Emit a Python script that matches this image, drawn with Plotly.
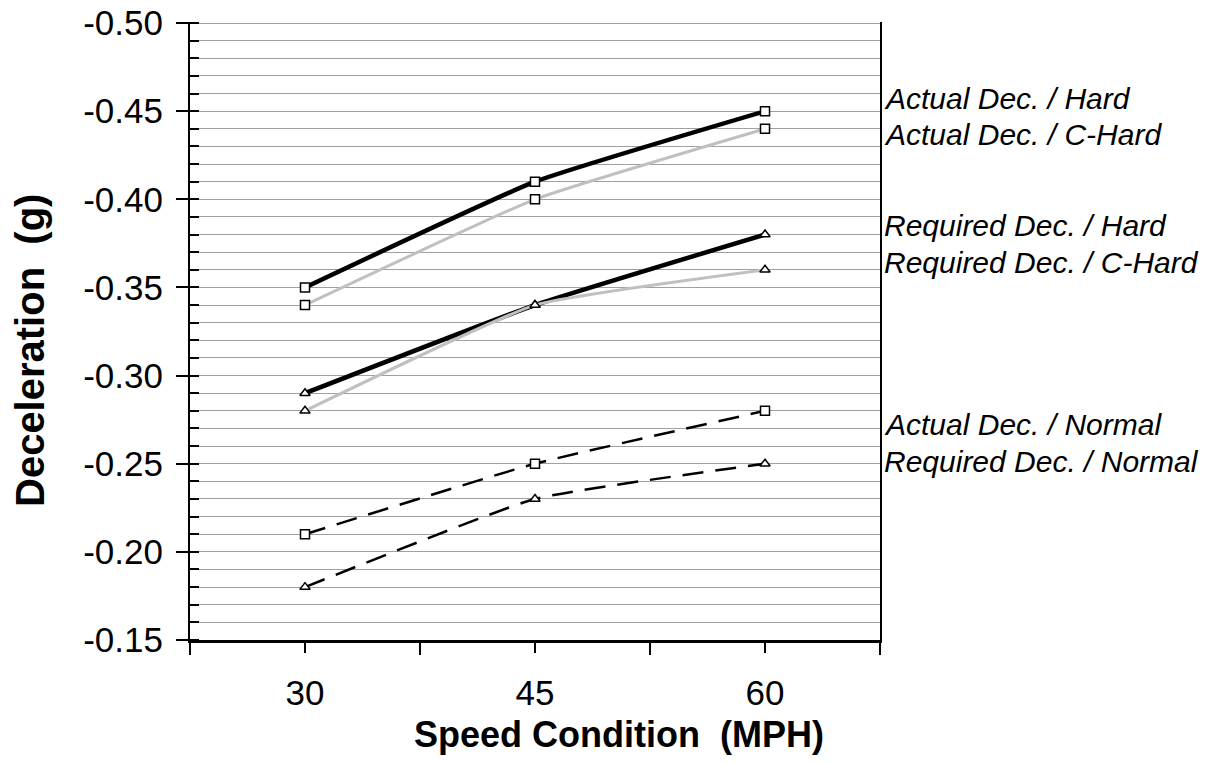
import plotly.graph_objects as go

speeds = [30, 45, 60]
speed_labels = ["30", "45", "60"]

actual_hard = [-0.35, -0.41, -0.45]
actual_chard = [-0.34, -0.40, -0.44]
required_hard = [-0.29, -0.34, -0.38]
required_chard = [-0.28, -0.34, -0.36]
actual_normal = [-0.21, -0.25, -0.28]
required_normal = [-0.18, -0.23, -0.25]

series_names = [
    "Actual Dec. / Hard",
    "Actual Dec. / C-Hard",
    "Required Dec. / Hard",
    "Required Dec. / C-Hard",
    "Actual Dec. / Normal",
    "Required Dec. / Normal",
]
label_y = [-0.457, -0.437, -0.385, -0.364, -0.272, -0.251]

y_ticks = [-0.50, -0.45, -0.40, -0.35, -0.30, -0.25, -0.20, -0.15]
y_tick_text = ["-0.50", "-0.45", "-0.40", "-0.35", "-0.30", "-0.25", "-0.20", "-0.15"]

FONT = "Liberation Sans, Arial, sans-serif"

styles = [
    (actual_hard, dict(color="black", width=4.5), "square"),
    (actual_chard, dict(color="#c0c0c0", width=3), "square"),
    (required_hard, dict(color="black", width=4.5), "triangle-up"),
    (required_chard, dict(color="#c0c0c0", width=3), "triangle-up"),
    (actual_normal, dict(color="black", width=2.5, dash="21px,12px"), "square"),
    (required_normal, dict(color="black", width=2.5, dash="21px,12px"), "triangle-up"),
]

fig = go.Figure()
for (vals, line, sym), name in zip(styles, series_names):
    fig.add_trace(go.Scatter(
        x=speeds, y=vals, name=name, mode="lines+markers",
        line=dict(shape="spline", smoothing=0.4, **line),
        marker=dict(symbol=sym, size=9, color="white",
                    line=dict(color="black", width=1.5)),
        showlegend=False,
    ))

for name, yv in zip(series_names, label_y):
    fig.add_annotation(
        x=1.0, xref="paper", y=yv, yref="y", xanchor="left", yanchor="middle",
        xshift=2, text=name, showarrow=False,
        font=dict(family=FONT, size=30, color="black", style="italic"),
    )

# page coordinates of the plot area (page body has an 8px margin)
OFF = 8
PLOT_L, PLOT_R, PLOT_T, PLOT_B = 190, 880, 22, 640
PW, PH = PLOT_R - PLOT_L, PLOT_B - PLOT_T
FIG_W, FIG_H = 1214 - 2 * OFF, 765 - 2 * OFF

fig.add_annotation(
    x=(30 - PLOT_L) / PW, xref="paper", y=(PLOT_B - 351) / PH, yref="paper",
    text="<b>Deceleration&nbsp;&nbsp;(g)</b>",
    textangle=-90, showarrow=False, xanchor="center", yanchor="middle",
    font=dict(family=FONT, size=40, color="black"),
)
fig.add_annotation(
    x=(619 - PLOT_L) / PW, xref="paper", y=-(734 - PLOT_B) / PH, yref="paper",
    text="<b>Speed Condition&nbsp;&nbsp;(MPH)</b>",
    showarrow=False, xanchor="center", yanchor="middle",
    font=dict(family=FONT, size=36, color="black"),
)

fig.update_layout(
    width=FIG_W, height=FIG_H,
    margin=dict(l=PLOT_L - OFF, r=FIG_W - (PLOT_R - OFF), t=PLOT_T - OFF,
                b=FIG_H - (PLOT_B - OFF)),
    paper_bgcolor="white", plot_bgcolor="white",
    font=dict(family=FONT, color="black"),
    xaxis=dict(
        range=[22.5, 67.5], tickvals=speeds, ticktext=speed_labels,
        ticks="outside", ticklen=10, tickwidth=1.5, tickcolor="black",
        showline=True, linecolor="black", linewidth=2.5, showgrid=False,
        zeroline=False, tickfont=dict(size=35, family=FONT), ticklabelstandoff=10,
        automargin=False, ticklabeloverflow="allow",
        minor=dict(tickvals=[22.5, 37.5, 52.5, 67.5], ticks="outside",
                   ticklen=12, tickwidth=1.5, tickcolor="black", showgrid=False),
    ),
    xaxis2=dict(
        range=[22.5, 67.5], tickvals=speeds, overlaying="x", anchor="y",
        side="bottom", ticks="inside", ticklen=8, tickwidth=1.5, tickcolor="black",
        showticklabels=False, showgrid=False, showline=False, zeroline=False,
        automargin=False,
    ),
    yaxis=dict(
        range=[-0.15, -0.5006], tickvals=y_ticks, ticktext=y_tick_text,
        ticks="outside", ticklen=12, tickwidth=1.5, tickcolor="black",
        showline=True, linecolor="black", linewidth=2, mirror=True,
        showgrid=True, gridcolor="#a0a0a0", gridwidth=1,
        zeroline=False, tickfont=dict(size=35, family=FONT), ticklabelstandoff=6,
        automargin=False, ticklabeloverflow="allow",
        minor=dict(dtick=0.01, tick0=0, ticks="inside", ticklen=9, tickwidth=1.5,
                   tickcolor="black", showgrid=True, gridcolor="#a0a0a0", gridwidth=1),
    ),
    yaxis2=dict(
        range=[-0.15, -0.5006], tickvals=y_ticks, overlaying="y", anchor="x",
        side="left", ticks="inside", ticklen=11, tickwidth=1.5, tickcolor="black",
        showticklabels=False, showgrid=False, showline=False, zeroline=False,
        automargin=False,
    ),
)

fig.write_html("out.html")
